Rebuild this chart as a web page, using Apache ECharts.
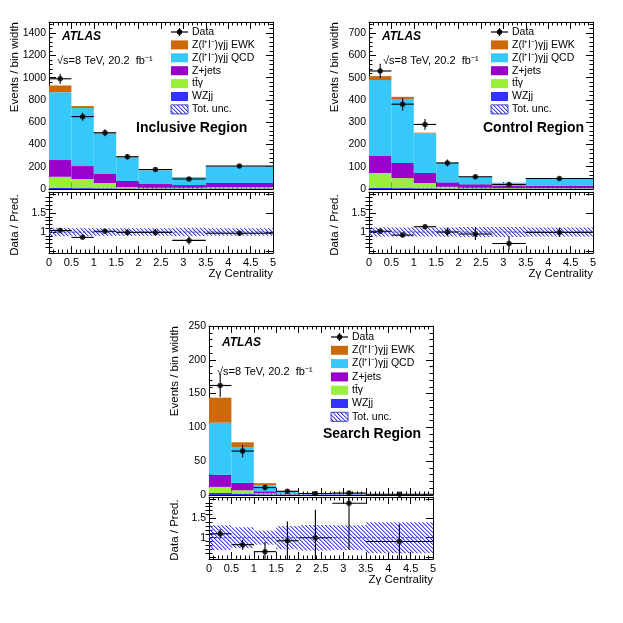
<!DOCTYPE html>
<html>
<head>
<meta charset="utf-8">
<script src="https://cdn.jsdelivr.net/npm/echarts@6/dist/echarts.min.js"></script>
<style>html,body{margin:0;background:#fff}#main{width:623px;height:623px}</style>
</head>
<body>
<div id="main"></div>
<script>
const FONT = '"Liberation Sans", Arial, sans-serif';

// bin edges of Zy centrality
const binEdges = [0, 0.5, 1, 1.5, 2, 2.75, 3.5, 5];

// ratio panel ticks
const ratioMajorTicks = [0.5, 1, 1.5, 2];
const ratioLabels = [1, 1.5];
const ratioMinorTicks = [0.6, 0.7, 0.8, 0.9, 1.1, 1.2, 1.3, 1.4, 1.6, 1.7, 1.8, 1.9];

// inclusive region (events / bin width)
const incWZjj = [10, 8, 6, 5, 4, 4, 5];
const incTtg = [100, 82, 48, 13, 8, 7, 10];
const incZjets = [150, 116, 81, 54, 33, 25, 39];
const incQCD = [610, 521, 365, 213, 124, 70, 150];
const incEWK = [60, 18, 5, 3, 2, 2, 2];
const incData = [990, 650, 505, 290, 175, 90, 207];
const incDataErr = [44, 36, 32, 24, 15, 12, 12];
const incRatio = [1.04, 0.86, 1.02, 0.99, 0.99, 0.78, 0.97];
const incRatioErr = [0.05, 0.05, 0.06, 0.08, 0.09, 0.11, 0.06];
const incUnc = [0.11, 0.1, 0.1, 0.1, 0.1, 0.11, 0.1];

// control region
const ctlWZjj = [5, 4, 3, 2, 2, 2, 2];
const ctlTtg = [67, 45, 24, 8, 4, 3, 3];
const ctlZjets = [76, 68, 45, 20, 15, 8, 10];
const ctlQCD = [341, 287, 178, 87, 33, 15, 32];
const ctlEWK = [18, 10, 3, 1, 1, 0.5, 1];
const ctlData = [530, 381, 290, 117, 55, 20, 47];
const ctlDataErr = [32, 28, 24, 15, 9, 6, 6];
const ctlRatio = [1.02, 0.92, 1.14, 1.0, 0.95, 0.7, 0.99];
const ctlRatioErr = [0.05, 0.06, 0.06, 0.11, 0.16, 0.18, 0.12];
const ctlUnc = [0.12, 0.12, 0.12, 0.12, 0.13, 0.13, 0.12];

// search region
const srchWZjj = [3, 2, 1, 0.5, 0.2, 0.2, 0.2];
const srchTtg = [9, 5, 1.5, 0.5, 0.2, 0.2, 0.1];
const srchZjets = [18, 11, 3, 1, 0.5, 0.3, 0.3];
const srchQCD = [77, 53, 9, 3, 1, 0.6, 0.5];
const srchEWK = [37, 7, 3, 1, 0.3, 0.2, 0.1];
const srchData = [162, 65, 11, 5.5, 2.2, 2.8, 1.1];
const srchDataErr = [17, 9, 4, 3, 1.5, 2, 0.6];
const srchRatio = [1.10, 0.82, 0.64, 0.92, 1.0, 1.89, 0.9];
const srchRatioErr = [0.12, 0.13, 0.25, 0.5, 0.72, 1.2, 0.45];
const srchUnc = [0.32, 0.27, 0.18, 0.3, 0.33, 0.32, 0.4];

// stack order bottom -> top
const compNames = ['WZjj', 'tt̄γ', 'Z+jets', 'Z(l⁺l⁻)γjj QCD', 'Z(l⁺l⁻)γjj EWK'];
const compColors = ['#3333ff', '#99f03c', '#9900cc', '#36c8f8', '#cc6a0a'];

function makeHatch() {
    const c = document.createElement('canvas');
    c.width = 4; c.height = 4;
    const g = c.getContext('2d');
    for (let i = 0; i < 4; i++) {
        g.fillStyle = '#4646dc';
        g.fillRect(i, i, 1, 1);
        g.fillStyle = 'rgba(70,70,220,0.45)';
        g.fillRect((i + 1) % 4, i, 1, 1);
    }
    return c;
}
const hatch = { image: makeHatch(), repeat: 'repeat' };

const panels = [
    { L: 49, T: 22, mainB: 189, rT: 192, rB: 253, yMax: 1500, yInt: 200,
      comps: [incWZjj, incTtg, incZjets, incQCD, incEWK], data: incData, dataErr: incDataErr,
      ratio: incRatio, ratioErr: incRatioErr, unc: incUnc, region: 'Inclusive Region',
      atlas: [13, 15], sqrt: [8, 39], reg: [87, 106], legTop: 10, legDy: 12.9 },
    { L: 369, T: 22, mainB: 189, rT: 192, rB: 253, yMax: 750, yInt: 100,
      comps: [ctlWZjj, ctlTtg, ctlZjets, ctlQCD, ctlEWK], data: ctlData, dataErr: ctlDataErr,
      ratio: ctlRatio, ratioErr: ctlRatioErr, unc: ctlUnc, region: 'Control Region',
      atlas: [13, 15], sqrt: [14, 39], reg: [114, 106], legTop: 10, legDy: 12.9 },
    { L: 209, T: 326, mainB: 495, rT: 497, rB: 559, yMax: 250, yInt: 50,
      comps: [srchWZjj, srchTtg, srchZjets, srchQCD, srchEWK], data: srchData, dataErr: srchDataErr,
      ratio: srchRatio, ratioErr: srchRatioErr, unc: srchUnc, region: 'Search Region',
      atlas: [13, 17], sqrt: [8, 46], reg: [114, 108], legTop: 11, legDy: 13.3 }
];
const W = 224;

const grids = [], xAxes = [], yAxes = [], series = [], graphics = [];
const axisLine = { show: true, onZero: false, lineStyle: { color: '#000', width: 1 } };
const tickStyle = { color: '#000', width: 1 };
const plain = v => String(v);

function addX(gi, labels) {
    const base = {
        gridIndex: gi, type: 'value', min: 0, max: 5, interval: 0.5,
        splitLine: { show: false }, axisLine,
        axisTick: { show: true, inside: true, length: 7, lineStyle: tickStyle },
        minorTick: { show: true, splitNumber: 5, length: 3.5, lineStyle: tickStyle }
    };
    xAxes.push(Object.assign({}, base, {
        position: 'bottom',
        axisLabel: labels ? { show: true, fontFamily: FONT, fontSize: 11, color: '#000', margin: 4, formatter: plain } : { show: false }
    }));
    xAxes.push(Object.assign({}, base, { position: 'top', axisLabel: { show: false } }));
    return xAxes.length - 2;
}

function addYMain(gi, max, interval) {
    const base = {
        gridIndex: gi, type: 'value', min: 0, max, interval,
        splitLine: { show: false }, axisLine,
        axisTick: { show: true, inside: true, length: 7, lineStyle: tickStyle },
        minorTick: { show: true, splitNumber: 5, length: 3.5, lineStyle: tickStyle }
    };
    yAxes.push(Object.assign({}, base, {
        position: 'left',
        axisLabel: { show: true, fontFamily: FONT, fontSize: 10.5, color: '#000', margin: 3,
                     showMaxLabel: max % interval === 0, formatter: plain }
    }));
    yAxes.push(Object.assign({}, base, { position: 'right', axisLabel: { show: false } }));
    return yAxes.length - 2;
}

function addYRatio(gi) {
    const base = {
        gridIndex: gi, type: 'value', min: 0.45, max: 2.05,
        splitLine: { show: false }, minorTick: { show: false }
    };
    yAxes.push(Object.assign({}, base, {
        position: 'left', axisLine,
        axisTick: { show: true, inside: true, length: 7, lineStyle: tickStyle, customValues: ratioMajorTicks },
        axisLabel: { show: true, fontFamily: FONT, fontSize: 10.5, color: '#000', margin: 3, customValues: ratioLabels, formatter: plain }
    }));
    const idx = yAxes.length - 1;
    yAxes.push(Object.assign({}, base, {
        position: 'right', axisLine,
        axisTick: { show: true, inside: true, length: 7, lineStyle: tickStyle, customValues: ratioMajorTicks },
        axisLabel: { show: false }
    }));
    ['left', 'right'].forEach(pos => {
        yAxes.push(Object.assign({}, base, {
            position: pos, axisLine: { show: false },
            axisTick: { show: true, inside: true, length: 3.5, lineStyle: tickStyle, customValues: ratioMinorTicks },
            axisLabel: { show: false }
        }));
    });
    return idx;
}

function boxRender(fill, stroke) {
    return function (params, api) {
        const a = api.coord([api.value(0), api.value(3)]);
        const b = api.coord([api.value(1), api.value(2)]);
        return {
            type: 'rect',
            shape: { x: a[0], y: a[1], width: b[0] - a[0], height: b[1] - a[1] },
            style: { fill, stroke: stroke || null, lineWidth: stroke ? 0.6 : 0 }
        };
    };
}

function errRender(params, api) {
    const lo = api.value(0), hi = api.value(1), y = api.value(2), e = api.value(3);
    const xc = (lo + hi) / 2;
    const h0 = api.coord([lo, y]), h1 = api.coord([hi, y]);
    const v0 = api.coord([xc, y - e]), v1 = api.coord([xc, y + e]);
    return {
        type: 'group',
        children: [
            { type: 'line', shape: { x1: h0[0], y1: h0[1], x2: h1[0], y2: h1[1] }, style: { stroke: '#000', lineWidth: 1.1 } },
            { type: 'line', shape: { x1: v0[0], y1: v0[1], x2: v1[0], y2: v1[1] }, style: { stroke: '#000', lineWidth: 1.1 } }
        ]
    };
}

function custom(name, xi, yi, render, data) {
    return { type: 'custom', name, xAxisIndex: xi, yAxisIndex: yi, renderItem: render, data,
             encode: { x: [0, 1], y: [2, 3] }, clip: true, silent: true, animation: false };
}

function dataSeries(xi, yi, vals, errs) {
    series.push(custom('Data', xi, yi, errRender,
        vals.map((v, i) => [binEdges[i], binEdges[i + 1], v, errs[i]])));
    series.push({
        type: 'scatter', name: 'Data', xAxisIndex: xi, yAxisIndex: yi, symbol: 'circle', symbolSize: 5.5,
        itemStyle: { color: '#000' }, silent: true, animation: false, clip: true,
        data: vals.map((v, i) => [(binEdges[i] + binEdges[i + 1]) / 2, v])
    });
}

function txt(x, y, text, font, align, rotation) {
    return { type: 'text', x, y, rotation: rotation || 0, silent: true,
             style: { text, font, fill: '#000', textAlign: align || 'left', textVerticalAlign: 'middle' } };
}

const legendItems = [
    { name: 'Data', kind: 'data' },
    { name: compNames[4], color: compColors[4] },
    { name: compNames[3], color: compColors[3] },
    { name: compNames[2], color: compColors[2] },
    { name: compNames[1], color: compColors[1] },
    { name: compNames[0], color: compColors[0] },
    { name: 'Tot. unc.', kind: 'hatch' }
];

panels.forEach((p, k) => {
    const gMain = grids.length;
    grids.push({ left: p.L, top: p.T, width: W, height: p.mainB - p.T });
    const gRatio = grids.length;
    grids.push({ left: p.L, top: p.rT, width: W, height: p.rB - p.rT });

    const xm = addX(gMain, false);
    const ym = addYMain(gMain, p.yMax, p.yInt);
    const xr = addX(gRatio, true);
    const yr = addYRatio(gRatio);

    // stacked histogram
    const base = p.data.map(() => 0);
    p.comps.forEach((vals, c) => {
        const rows = vals.map((v, i) => {
            const r = [binEdges[i], binEdges[i + 1], base[i], base[i] + v];
            base[i] += v;
            return r;
        });
        series.push(custom(compNames[c], xm, ym, boxRender(compColors[c]), rows));
    });
    dataSeries(xm, ym, p.data, p.dataErr);

    // ratio panel
    series.push(custom('Tot. unc.', xr, yr, boxRender(hatch),
        p.unc.map((u, i) => [binEdges[i], binEdges[i + 1], 1 - u, 1 + u])));
    series.push({
        type: 'line', xAxisIndex: xr, yAxisIndex: yr, symbol: 'none', silent: true, animation: false,
        lineStyle: { color: '#3030a0', width: 0.8, type: 'dashed' }, data: [[0, 1], [5, 1]]
    });
    dataSeries(xr, yr, p.ratio, p.ratioErr);

    // texts
    graphics.push(txt(p.L + p.atlas[0], p.T + p.atlas[1], 'ATLAS', 'italic bold 12px ' + FONT));
    graphics.push(txt(p.L + p.sqrt[0], p.T + p.sqrt[1], '√s=8 TeV, 20.2  fb⁻¹', '11px ' + FONT));
    graphics.push(txt(p.L + p.reg[0], p.T + p.reg[1], p.region, 'bold 14px ' + FONT));
    graphics.push(txt(p.L - 34, p.T, 'Events / bin width', '11.5px ' + FONT, 'right', Math.PI / 2));
    graphics.push(txt(p.L - 34, p.rT + 33, 'Data / Pred.', '11.5px ' + FONT, 'center', Math.PI / 2));
    graphics.push(txt(p.L + W, p.rB + 21, 'Zγ Centrality', '11.5px ' + FONT, 'right'));

    // legend
    const x0 = p.L + 122, tx = p.L + 143;
    legendItems.forEach((it, i) => {
        const y = p.T + p.legTop + i * p.legDy;
        if (it.kind === 'data') {
            graphics.push({ type: 'line', silent: true, shape: { x1: x0, y1: y, x2: x0 + 17, y2: y }, style: { stroke: '#000', lineWidth: 1.2 } });
            graphics.push({ type: 'line', silent: true, shape: { x1: x0 + 8.5, y1: y - 4, x2: x0 + 8.5, y2: y + 4 }, style: { stroke: '#000', lineWidth: 1.2 } });
            graphics.push({ type: 'circle', silent: true, shape: { cx: x0 + 8.5, cy: y, r: 2.7 }, style: { fill: '#000' } });
        } else if (it.kind === 'hatch') {
            graphics.push({ type: 'rect', silent: true, shape: { x: x0, y: y - 4.5, width: 17, height: 9 }, style: { fill: hatch, stroke: '#3d3dd6', lineWidth: 1 } });
        } else {
            graphics.push({ type: 'rect', silent: true, shape: { x: x0, y: y - 4.5, width: 17, height: 9 }, style: { fill: it.color } });
        }
        graphics.push(txt(tx, y, it.name, '10.5px ' + FONT));
    });
});

const chart = echarts.init(document.getElementById('main'));
chart.setOption({
    backgroundColor: '#fff',
    animation: false,
    grid: grids,
    xAxis: xAxes,
    yAxis: yAxes,
    series,
    graphic: graphics
});
</script>
</body>
</html>
